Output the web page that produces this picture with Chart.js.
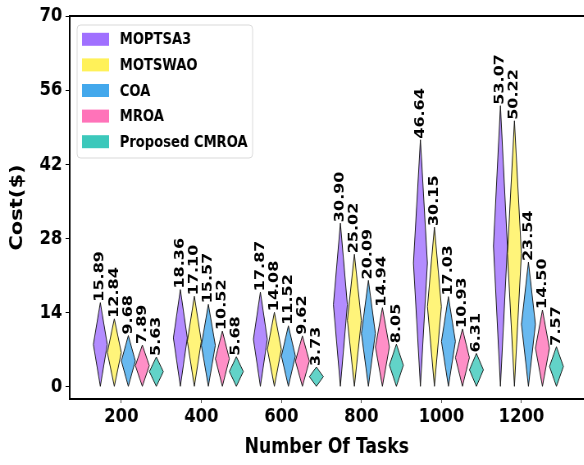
<!DOCTYPE html>
<html lang="en">
<head>
  <meta charset="UTF-8" />
  <title>Cost vs Number Of Tasks</title>
  <script src="https://cdn.jsdelivr.net/npm/chart.js"></script>
  <style>
    html, body {
      margin: 0;
      padding: 0;
      background: #fff;
      overflow: hidden;
    }
    /* the reference figure is squeezed sideways, so draw wider and squeeze */
    #costChart {
      transform: scaleX(0.82);
      transform-origin: 0 0;
    }
  </style>
</head>
<body>
  <canvas id="costChart" width="712" height="465"></canvas>

  <script>
    const tasks = [200, 400, 600, 800, 1000, 1200];
    const seriesNames = ['MOPTSA3', 'MOTSWAO', 'COA', 'MROA', 'Proposed CMROA'];
    const moptsa3 = [15.89, 18.36, 17.87, 30.90, 46.64, 53.07];
    const motswao = [12.84, 17.10, 14.08, 25.02, 30.15, 50.22];
    const coa = [9.68, 15.57, 11.52, 20.09, 17.03, 23.54];
    const mroa = [7.89, 10.52, 9.62, 14.94, 10.93, 14.50];
    const cmroa = [5.63, 5.68, 3.73, 8.05, 6.31, 7.57];
    const yTicks = [0, 14, 28, 42, 56, 70];

    const seriesValues = [moptsa3, motswao, coa, mroa, cmroa];
    const seriesColors = ['#9966ff', '#fff04d', '#36a2eb', '#ff69b4', '#2ec4b6'];

    // diamond shaped bar: tip at the value, tip at the base, widest half way
    class DiamondElement extends Chart.BarElement {
      static id = 'diamond';
      static defaults = Chart.BarElement.defaults;
      static defaultRoutes = Chart.BarElement.defaultRoutes;

      draw(ctx) {
        const {x, y, base, width} = this.getProps(['x', 'y', 'base', 'width']);
        const o = this.options;
        const mid = (y + base) / 2;
        const hw = width / 2;
        ctx.save();
        ctx.beginPath();
        ctx.moveTo(x, y);
        ctx.lineTo(x + hw, mid);
        ctx.lineTo(x, base);
        ctx.lineTo(x - hw, mid);
        ctx.closePath();
        ctx.fillStyle = o.backgroundColor;
        ctx.fill();
        ctx.lineWidth = o.borderWidth;
        ctx.strokeStyle = o.borderColor;
        ctx.lineJoin = 'miter';
        ctx.stroke();
        ctx.restore();
      }
    }

    class DiamondController extends Chart.BarController {
      static id = 'diamond';
      static defaults = Object.assign({}, Chart.BarController.defaults, {dataElementType: 'diamond'});
      static overrides = Chart.BarController.overrides;
    }

    Chart.register(DiamondElement, DiamondController);

    const valueLabels = {
      id: 'valueLabels',
      afterDatasetsDraw(chart) {
        const ctx = chart.ctx;
        ctx.save();
        ctx.font = 'bold 16px "DejaVu Sans"';
        ctx.fillStyle = '#000';
        ctx.textAlign = 'left';
        ctx.textBaseline = 'middle';
        chart.data.datasets.forEach((ds, i) => {
          chart.getDatasetMeta(i).data.forEach((el, j) => {
            ctx.save();
            ctx.translate(el.x, el.y - 1);
            ctx.rotate(-Math.PI / 2);
            ctx.fillText(ds.data[j].y.toFixed(2), 0, 0);
            ctx.restore();
          });
        });
        ctx.restore();
      }
    };

    const frameAndLegend = {
      id: 'frameAndLegend',
      afterDraw(chart) {
        const ctx = chart.ctx;
        const area = chart.chartArea;
        ctx.save();

        // top spine
        ctx.strokeStyle = '#000';
        ctx.lineWidth = 2;
        ctx.beginPath();
        ctx.moveTo(area.left - 1, area.top);
        ctx.lineTo(area.right, area.top);
        ctx.stroke();

        // legend box
        const left = area.left + 9;
        const top = area.top + 9;
        const w = 214, h = 133, rowH = 25.6;
        ctx.fillStyle = 'rgba(255,255,255,0.8)';
        ctx.strokeStyle = '#d9d9d9';
        ctx.lineWidth = 1;
        ctx.beginPath();
        ctx.roundRect(left, top, w, h, 4);
        ctx.fill();
        ctx.stroke();

        ctx.font = 'bold 16px "DejaVu Sans"';
        ctx.textAlign = 'left';
        ctx.textBaseline = 'middle';
        chart.data.datasets.forEach((ds, i) => {
          const cy = top + 14.3 + i * rowH;
          ctx.fillStyle = ds.legendColor;
          ctx.fillRect(left + 6, cy - 6.5, 33, 13);
          ctx.fillStyle = '#000';
          ctx.fillText(ds.label, left + 52, cy + 1);
        });
        ctx.restore();
      }
    };

    const datasets = seriesNames.map((name, i) => ({
      label: name,
      // each series sits one bar width further right inside a group
      data: tasks.map((t, j) => ({x: t + (i - 1.5) * 35, y: seriesValues[i][j]})),
      backgroundColor: seriesColors[i] + 'bf',
      legendColor: seriesColors[i] + 'ee',
      borderColor: '#1a1a1a',
      borderWidth: 1,
      grouped: false,
      barThickness: 17
    }));

    Chart.defaults.font.family = '"DejaVu Sans"';

    const axisFont = {family: '"DejaVu Sans"', weight: 'bold', size: 20};
    const titleFont = {family: '"DejaVu Sans"', weight: 'bold', size: 21};

    new Chart(document.getElementById('costChart'), {
      type: 'diamond',
      data: {datasets: datasets},
      options: {
        responsive: false,
        animation: false,
        layout: {padding: {top: 16, right: 0, bottom: 0, left: 0}},
        plugins: {
          legend: {display: false},
          tooltip: {enabled: false}
        },
        scales: {
          x: {
            type: 'linear',
            min: 71,
            max: 1356,
            offset: false,
            afterBuildTicks: axis => { axis.ticks = tasks.map(v => ({value: v})); },
            afterFit: axis => { axis.height = 66; },
            grid: {drawOnChartArea: false, drawTicks: true, tickLength: 4, tickColor: '#555', offset: false},
            border: {display: true, color: '#000', width: 2},
            ticks: {font: axisFont, color: '#000', padding: 2, maxRotation: 0, autoSkip: false,
                    callback: v => String(v)},
            title: {display: true, text: 'Number Of Tasks', font: titleFont, color: '#000', padding: {top: 0, bottom: 5}}
          },
          y: {
            min: -2.3,
            max: 70,
            afterBuildTicks: axis => { axis.ticks = yTicks.map(v => ({value: v})); },
            afterFit: axis => { axis.width = 85; },
            grid: {drawOnChartArea: false, drawTicks: true, tickLength: 5, tickColor: '#000', offset: false},
            border: {display: true, color: '#000', width: 2},
            ticks: {font: axisFont, color: '#000', padding: 4, callback: v => String(v)},
            title: {display: true, text: 'Cost($)', font: titleFont, color: '#000', padding: {top: 9, bottom: 0}}
          }
        }
      },
      plugins: [valueLabels, frameAndLegend]
    });
  </script>
</body>
</html>
